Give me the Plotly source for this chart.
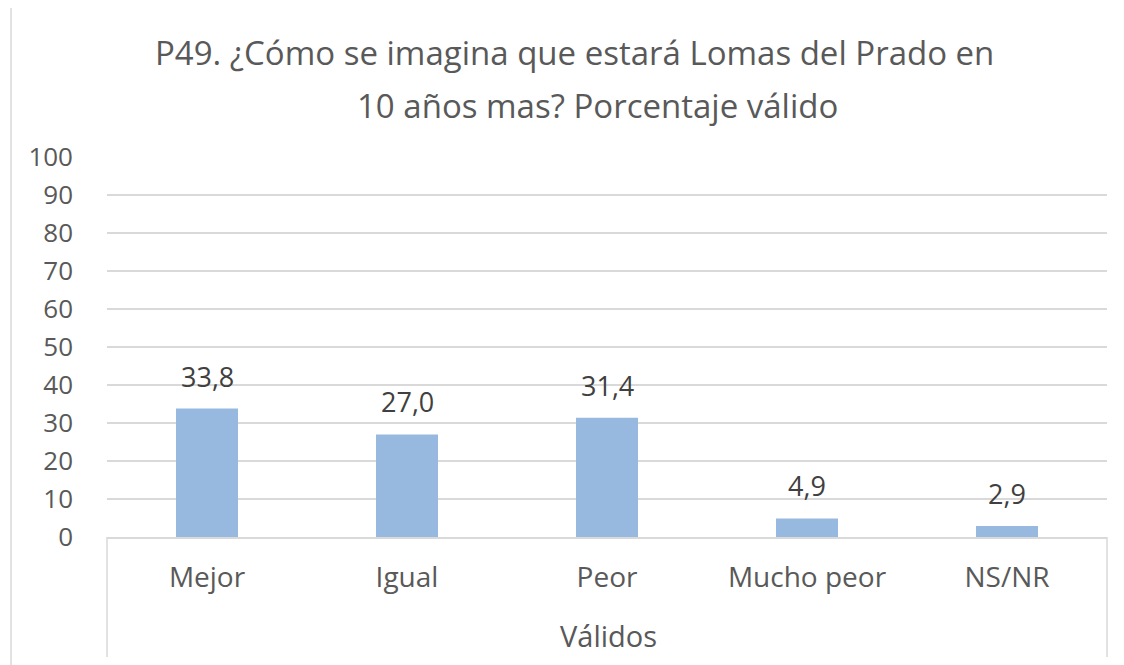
import plotly.graph_objects as go

categories = ["Mejor", "Igual", "Peor", "Mucho peor", "NS/NR"]
values = [33.8, 27.0, 31.4, 4.9, 2.9]
group_label = "Válidos"
title_line1 = "P49. ¿Cómo se imagina que estará Lomas del Prado en"
title_line2 = "10 años mas? Porcentaje válido"
y_ticks = list(range(0, 101, 10))

FONT = "Open Sans"
TXT = "#595959"
GRID = "#D9D9D9"

fig = go.Figure()
fig.add_trace(go.Bar(
    x=categories, y=values,
    marker=dict(color="#97B9E0", line=dict(width=0)),
    width=0.31,
    hoverinfo="skip",
))

annotations = []
for c, v in zip(categories, values):
    annotations.append(dict(
        x=c, y=v, xref="x", yref="y",
        text=f"{v:.1f}".replace(".", ","),
        showarrow=False, yanchor="bottom", yshift=12,
        font=dict(family=FONT, size=27, color="#404040"),
    ))
annotations.append(dict(
    x=0.5015, y=-0.2605, xref="paper", yref="paper",
    text=group_label, showarrow=False, yanchor="middle",
    font=dict(family=FONT, size=29, color=TXT),
))
annotations.append(dict(
    x=0.4675, y=1.276, xref="paper", yref="paper",
    text=title_line1, showarrow=False, yanchor="middle", align="center",
    font=dict(family=FONT, size=33, color=TXT),
))
annotations.append(dict(
    x=0.490, y=1.136, xref="paper", yref="paper",
    text=title_line2, showarrow=False, yanchor="middle", align="center",
    font=dict(family=FONT, size=33, color=TXT),
))

shapes = [
    # chart border
    dict(type="rect", xref="paper", yref="paper",
         x0=-0.096, x1=1.05, y0=-0.45, y1=1.3947,
         line=dict(color=GRID, width=1.5), fillcolor="rgba(0,0,0,0)", layer="below"),
    # group dividers
    dict(type="line", xref="paper", yref="paper", x0=0, x1=0, y0=0, y1=-0.3158,
         line=dict(color=GRID, width=1.5)),
    dict(type="line", xref="paper", yref="paper", x0=1, x1=1, y0=0, y1=-0.3158,
         line=dict(color=GRID, width=1.5)),
]

fig.update_layout(
    width=1116, height=657,
    margin=dict(l=99, r=17, t=149, b=128),
    paper_bgcolor="white", plot_bgcolor="white",
    showlegend=False,
    bargap=0.69,
    annotations=annotations,
    shapes=shapes,
    xaxis=dict(
        type="category",
        showgrid=False, zeroline=False,
        showline=True, linecolor=GRID, linewidth=1.5,
        ticks="", ticklabelstandoff=15,
        tickfont=dict(family=FONT, size=28, color=TXT),
        fixedrange=True,
    ),
    yaxis=dict(
        range=[0, 100], tickvals=y_ticks,
        showgrid=True, gridcolor=GRID, gridwidth=1.5,
        zeroline=False, showline=False,
        ticks="", ticklabelstandoff=33,
        tickfont=dict(family=FONT, size=26, color=TXT),
        fixedrange=True,
    ),
)

fig.write_html("out.html")
